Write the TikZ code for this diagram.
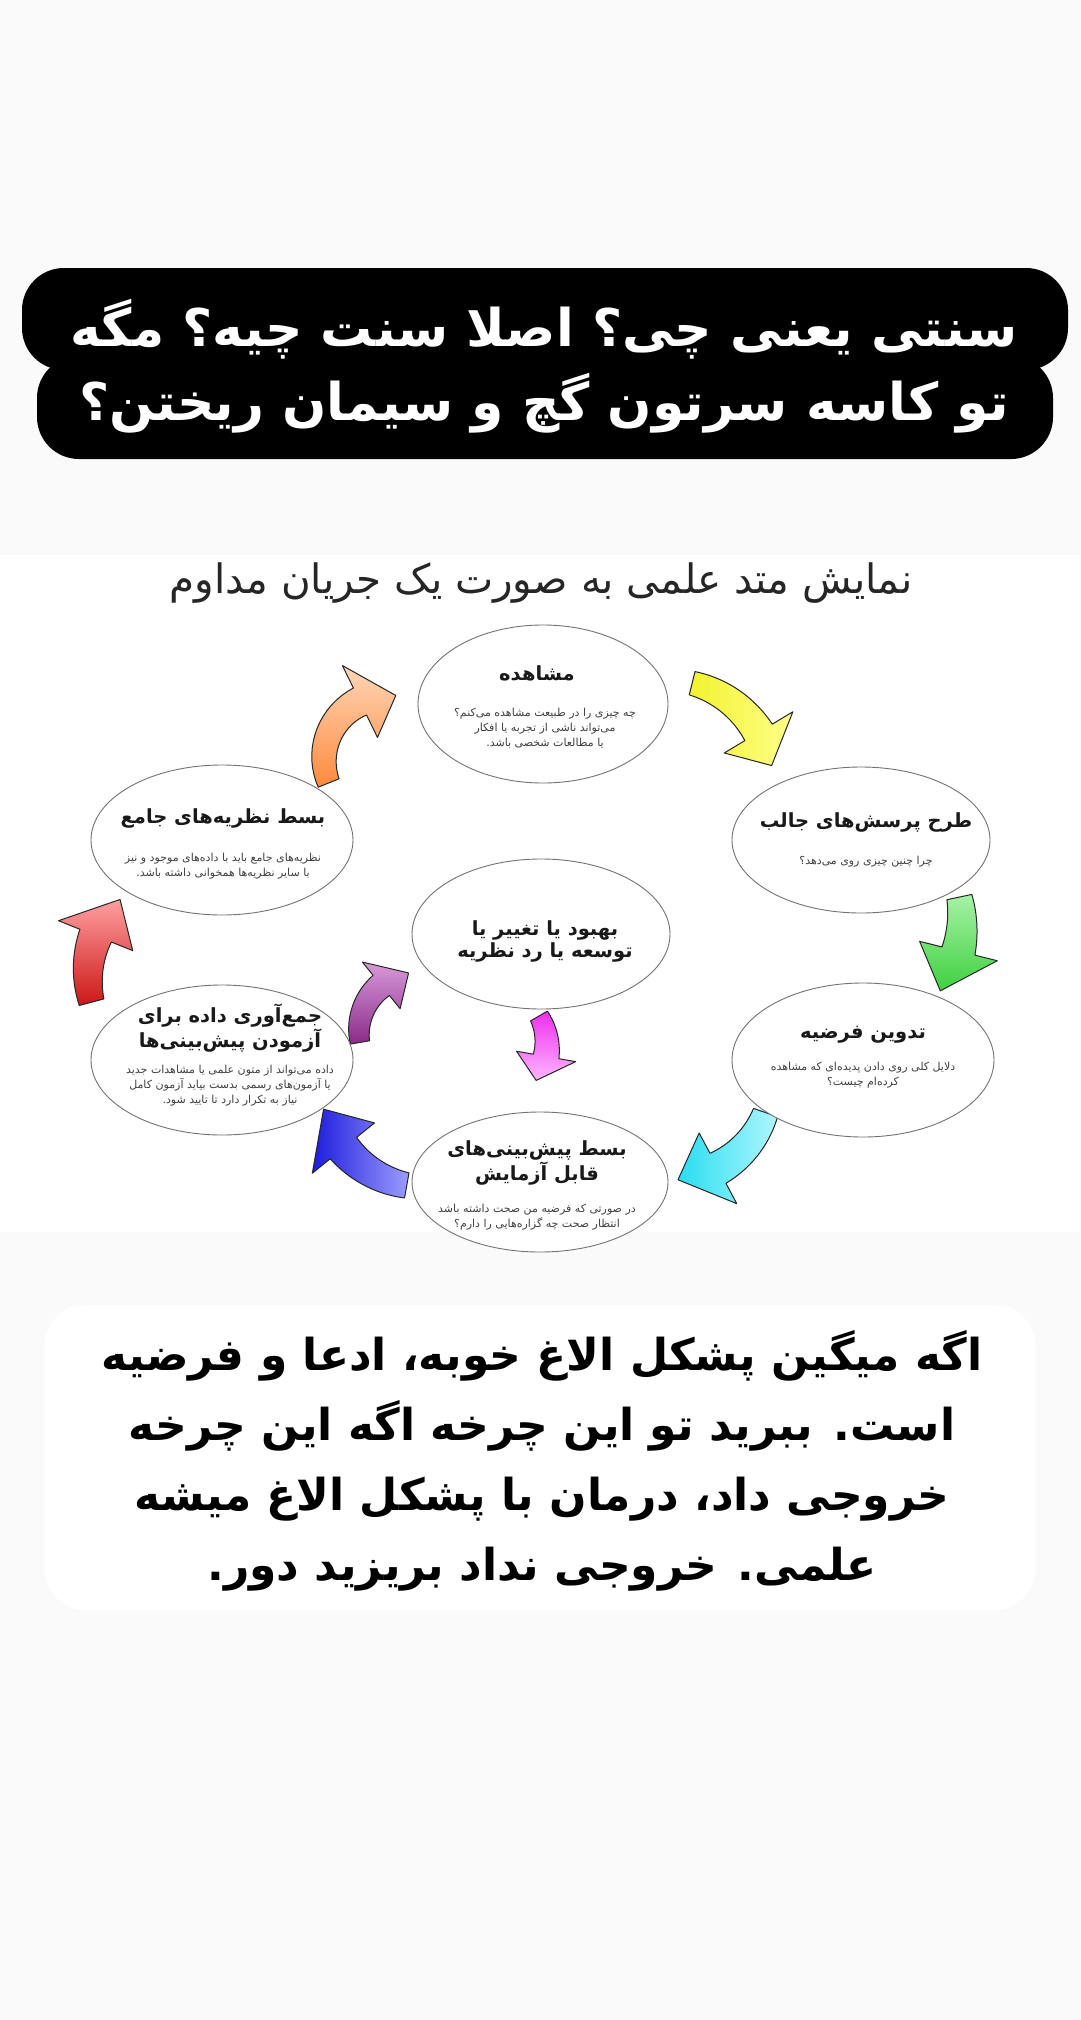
\documentclass[tikz,border=0pt]{standalone}
\usepackage{fontspec}
\usetikzlibrary{shapes.geometric}
\TeXXeTstate=1
\newfontfamily\fafont[Script=Arabic]{DejaVu Sans}

\definecolor{orangeD}{HTML}{FF8A3D}\definecolor{orangeL}{HTML}{FFD6B8}
\definecolor{yellowD}{HTML}{F2F230}\definecolor{yellowL}{HTML}{FFFF8A}
\definecolor{greenD}{HTML}{3FD03F}\definecolor{greenL}{HTML}{A6F2A6}
\definecolor{cyanD}{HTML}{28DDF0}\definecolor{cyanL}{HTML}{B0F6FF}
\definecolor{blueD}{HTML}{1C1CDC}\definecolor{blueL}{HTML}{9C9CFF}
\definecolor{redD}{HTML}{CC1616}\definecolor{redL}{HTML}{FFA0A0}
\definecolor{purpleD}{HTML}{8A2A8A}\definecolor{purpleL}{HTML}{D89AD8}
\definecolor{magentaD}{HTML}{EE2EEE}\definecolor{magentaL}{HTML}{FFB6FF}

% #1 colours, #2 centre, #3 radius, #4 tail angle, #5 head angle, #6 tip angle,
% #7 body half width, #8 head half width
\newcommand{\cyclearrow}[8]{%
  \begin{scope}[shift={(#2)}]
    \path[arrowline,#1]
      plot[domain=#4:#5,samples=18] (\x:{#3+0.75*#7+0.25*#7*(\x-#4)/(#5-#4)})
      -- ({#5}:{#3+#8}) -- ({#6}:{#3}) -- ({#5}:{#3-#8})
      -- plot[domain=#5:#4,samples=18] (\x:{#3-0.75*#7-0.25*#7*(\x-#4)/(#5-#4)})
      -- cycle;
  \end{scope}}

\tikzset{
  stage/.style={ellipse, draw=black!55, line width=0.9pt, fill=white, inner sep=0pt},
  stagetitle/.style={font=\fafont\bfseries\fontsize{19.5}{22}\selectfont, text=black!90, align=center},
  stagebody/.style={font=\fafont\fontsize{11}{15}\selectfont, text=black!75, align=center},
  arrowline/.style={draw=black!85, line width=1pt, line join=round},
}

\begin{document}
\begin{tikzpicture}[x=1pt,y=-1pt]
  \useasboundingbox (0,0) rectangle (1080,2020);
  % backgrounds
  \fill[black!2] (0,0) rectangle (1080,2020);
  \fill[white] (0,555) rectangle (1080,1232);
  \fill[white,rounded corners=40] (45,1305) rectangle (1035,1610);

  % black banner
  \fill[black,rounded corners=42] (22,268) rectangle (1068,370);
  \fill[black,rounded corners=42] (37,356) rectangle (1053,459);
  \node[font=\fafont\bfseries\fontsize{52}{74}\selectfont, text=white, align=center] (banner) at (544,366)
    {\beginR سنتی یعنی چی؟ اصلا سنت چیه؟ مگه\endR\\
     \beginR تو کاسه سرتون گچ و سیمان ریختن؟\endR};

  \node[font=\fafont\fontsize{40.5}{42}\selectfont, text=black!85] (heading) at (541,583)
    {\beginR نمایش متد علمی به صورت یک جریان مداوم\endR};

  % cycle arrows
  \cyclearrow{bottom color=orangeD,top color=orangeL}{388,759}{64}{158}{244}{277}{15}{40}
  \cyclearrow{left color=yellowD,right color=yellowL}{666,788}{108}{284}{329}{348}{16}{40}
  \cyclearrow{bottom color=greenD,top color=greenL}{842,922}{120}{-12}{14}{35}{17}{40}
  \cyclearrow{left color=cyanD,right color=cyanL}{671,1080}{100}{19}{62}{86}{17}{40}
  \cyclearrow{left color=blueD,right color=blueL}{425,1082}{105}{100}{141}{165}{17}{40}
  \cyclearrow{bottom color=redD,top color=redL}{193,975}{105}{165}{202}{226}{17}{40}
  \cyclearrow{bottom color=purpleD,top color=purpleL}{419,1032}{60}{170}{231}{260}{13}{30}
  \cyclearrow{top color=magentaD,bottom color=magentaL}{487,1046}{60}{-30}{10}{35}{13}{30}

  % stages
  \node[stage, minimum width=250pt, minimum height=158pt] (obs) at (543,704) {};
  \node[stage, minimum width=258pt, minimum height=146pt] (qst) at (861,840) {};
  \node[stage, minimum width=262pt, minimum height=154pt] (hyp) at (863,1060) {};
  \node[stage, minimum width=256pt, minimum height=140pt] (pred) at (540,1182) {};
  \node[stage, minimum width=262pt, minimum height=150pt] (data) at (222,1060) {};
  \node[stage, minimum width=262pt, minimum height=150pt] (theo) at (222,840) {};
  \node[stage, minimum width=258pt, minimum height=150pt] (refine) at (541,934) {};

  \node[stagetitle] (obs-t) at (537,673) {\beginR مشاهده\endR};
  \node[stagebody] (obs-b) at (545,728)
    {\beginR چه چیزی را در طبیعت مشاهده می^^^^200cکنم؟\endR\\
     \beginR می^^^^200cتواند ناشی از تجربه یا افکار\endR\\
     \beginR یا مطالعات شخصی باشد.\endR};

  \node[stagetitle] (qst-t) at (866,822) {\beginR طرح پرسش^^^^200cهای جالب\endR};
  \node[stagebody] (qst-b) at (866,862) {\beginR چرا چنین چیزی روی می^^^^200cدهد؟\endR};

  \node[stagetitle] (hyp-t) at (863,1035) {\beginR تدوین فرضیه\endR};
  \node[stagebody] (hyp-b) at (863,1075)
    {\beginR دلایل کلی روی دادن پدیده^^^^200cای که مشاهده\endR\\
     \beginR کرده^^^^200cام چیست؟\endR};

  \node[stagetitle] (pred-t) at (537,1163)
    {\beginR بسط پیش^^^^200cبینی^^^^200cهای\endR\\ \beginR قابل آزمایش\endR};
  \node[stagebody] (pred-b) at (537,1217)
    {\beginR در صورتی که فرضیه من صحت داشته باشد\endR\\
     \beginR انتظار صحت چه گزاره^^^^200cهایی را دارم؟\endR};

  \node[stagetitle] (data-t) at (230,1028)
    {\beginR جمع^^^^200cآوری داده برای\endR\\ \beginR آزمودن پیش^^^^200cبینی^^^^200cها\endR};
  \node[stagebody] (data-b) at (230,1086)
    {\beginR داده می^^^^200cتواند از متون علمی یا مشاهدات جدید\endR\\
     \beginR یا آزمون^^^^200cهای رسمی بدست بیاید آزمون کامل\endR\\
     \beginR نیاز به تکرار دارد تا تایید شود.\endR};

  \node[stagetitle] (theo-t) at (223,818) {\beginR بسط نظریه^^^^200cهای جامع\endR};
  \node[stagebody] (theo-b) at (223,866)
    {\beginR نظریه^^^^200cهای جامع باید با داده^^^^200cهای موجود و نیز\endR\\
     \beginR با سایر نظریه^^^^200cها همخوانی داشته باشد.\endR};

  \node[stagetitle] (refine-t) at (545,941)
    {\beginR بهبود یا تغییر یا\endR\\ \beginR توسعه یا رد نظریه\endR};

  % closing remark
  \node[font=\fafont\bfseries\fontsize{44}{70}\selectfont, text=black, align=center] (remark) at (542,1461)
    {\beginR اگه میگین پشکل الاغ خوبه، ادعا و فرضیه\endR\\
     \beginR است. ببرید تو این چرخه اگه این چرخه\endR\\
     \beginR خروجی داد، درمان با پشکل الاغ میشه\endR\\
     \beginR علمی. خروجی نداد بریزید دور.\endR};
\end{tikzpicture}
\end{document}
